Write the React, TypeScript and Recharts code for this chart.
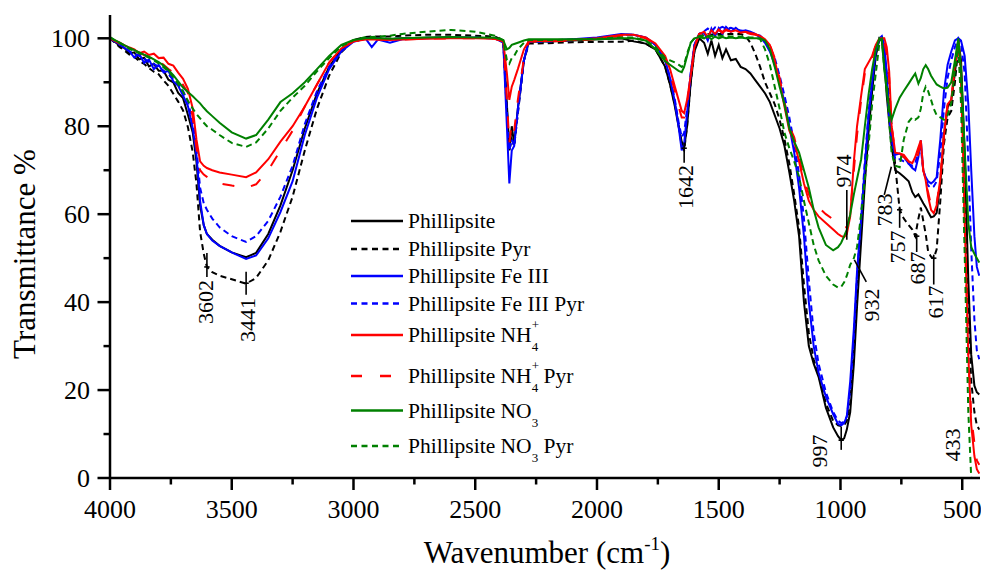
import React from 'react';
import { LineChart, Line, XAxis, YAxis, ReferenceLine } from 'recharts';

// ---- data (transmittance %) ----
const wavenumbers = [
  4000, 3980, 3960, 3940, 3920, 3900, 3880, 3860, 3840, 3820,
  3800, 3780, 3760, 3740, 3720, 3700, 3680, 3660, 3645, 3630,
  3615, 3602, 3580, 3550, 3500, 3441, 3400, 3350, 3300, 3250,
  3200, 3150, 3100, 3050, 3000, 2950, 2925, 2900, 2850, 2800,
  2700, 2600, 2500, 2420, 2385, 2370, 2360, 2350, 2340, 2325,
  2300, 2280, 2200, 2100, 2000, 1900, 1850, 1800, 1760, 1720,
  1700, 1680, 1665, 1652, 1642, 1630, 1615, 1600, 1580, 1560,
  1545, 1530, 1515, 1500, 1485, 1470, 1450, 1430, 1410, 1390,
  1370, 1350, 1330, 1310, 1290, 1270, 1250, 1230, 1210, 1190,
  1170, 1150, 1130, 1110, 1090, 1060, 1030, 1010, 997, 985,
  974, 960, 945, 932, 915, 900, 885, 870, 855, 840,
  830, 820, 810, 800, 790, 775, 757, 740, 720, 705,
  693, 680, 670, 660, 650, 640, 628, 617, 605, 590,
  575, 560, 545, 530, 516, 505, 490, 475, 463, 450,
  440, 430,
];

const phillipsite = [
  100, 99.2, 98.3, 97.8, 96.5, 96.8, 95.2, 95.6, 93.6, 94.2,
  92.6, 92.6, 90.6, 90, 87.6, 86.4, 82.6, 78.5, 72, 62,
  57.5, 55.5, 54.2, 52.8, 51.3, 50.2, 51.2, 55.5, 62, 70,
  79.5, 87.5, 93.5, 97.5, 99.5, 100, 100, 100, 99.8, 100,
  100.1, 100.2, 100.1, 100, 99.5, 85, 74.5, 80, 76, 84,
  95, 99.2, 99.3, 99.5, 99.8, 100, 99.3, 98.8, 97.5, 93.5,
  89.5, 84.5, 80, 76.5, 75, 80, 90, 97, 100, 99,
  96.5, 99.5, 96, 98.5, 95.5, 97.5, 95, 95.3, 93.5, 93,
  92, 90.5, 89, 87.5, 85.5, 82.5, 79.5, 75.5, 69.5, 63,
  55, 40, 30, 26, 23, 16, 11.5, 9.5, 8.6, 9,
  11, 15, 26, 39, 54, 67, 78.5, 88, 96, 100,
  99.5, 95, 87, 81, 75.5, 70, 69.3, 68.5, 67.5, 65,
  63.9, 64.5, 63.5, 62.5, 61.6, 60.5, 59.3, 59.5, 60.3, 67,
  78, 84.3, 86, 92, 99.5, 95, 74, 45, 28, 21,
  19.5, 19,
];

const phillipsitePyr = [
  100, 99, 98, 97.2, 96.3, 95.8, 94.8, 94.2, 93.2, 92.4,
  91.8, 90.4, 89.2, 87.4, 85.6, 83.6, 79.8, 74, 67, 56,
  51, 48, 46.8, 46, 45.2, 44.2, 45.5, 49.5, 56, 64,
  74.5, 84, 91.5, 96.8, 99.6, 100.3, 100.4, 100.4, 100.4, 100.6,
  100.8, 100.8, 100.6, 100.4, 99.5, 84, 74.5, 77, 75.5, 83,
  95, 98.8, 98.9, 99.1, 99.2, 99.2, 99.5, 98.8, 97.5, 93.5,
  89.5, 85, 80.5, 75.5, 74.5, 80, 90, 97, 100.5, 100.8,
  101, 100.8, 101, 101, 101, 101, 101, 101, 101, 100.5,
  99, 96.5, 93.5, 90, 87.5, 85, 81.5, 77, 71.5, 64.5,
  57, 44, 33, 27, 23.5, 17, 13, 12, 11.8, 12,
  13, 17, 29, 43, 57, 69, 80, 89, 96.5, 100,
  99.5, 96.5, 92, 86, 80, 71, 61, 59, 57.5, 56.5,
  55, 59, 61.5, 58.5, 55.5, 51.5, 50.3, 50, 52, 63,
  76, 82, 83.5, 90, 98, 92, 68, 38, 22, 15,
  12, 11,
];

const feIII = [
  100, 99.3, 98.6, 97.8, 97, 95.6, 96.5, 94.4, 95.2, 93,
  94, 92.2, 92.6, 90.2, 89.2, 87, 84.6, 79.5, 73.5, 63,
  57.5, 55.5, 54, 52.8, 51.3, 49.8, 50.6, 54.5, 60.5, 67.5,
  78, 86.5, 93, 97, 99.2, 99.9, 98, 99.7, 99, 99.8,
  100, 100.2, 100.1, 100, 99, 80, 67, 74.5, 75.5, 84,
  95, 99.4, 99.5, 99.8, 100.2, 101, 100.8, 100.2, 98.5, 95,
  91, 85.5, 80, 74.5, 76, 83, 92, 98.5, 101, 101.3,
  99.5, 102.2, 100.5, 102.3, 101, 102.6, 101.5, 102.4, 101.5, 101.8,
  101.5, 101, 100.2, 99, 97, 94, 90, 85.5, 80, 74,
  66, 55, 40, 30, 24, 18.5, 14.5, 12.3, 12, 12.5,
  14, 22, 34, 47, 59, 71, 82, 90, 97, 100,
  100.5, 98.5, 92, 83, 77, 73.5, 73.8, 73, 71.5, 70.5,
  70, 73, 76.8, 70, 68.4, 67.5, 67, 67.5, 68.4, 77,
  88, 94, 97, 99.5, 100, 99.5, 96, 85, 70, 55,
  48, 46,
];

const feIIIPyr = [
  100, 99.2, 98.5, 98, 97, 96.5, 96, 95.4, 94.6, 94.2,
  93.5, 92.6, 91.8, 90.6, 89.6, 88, 85.6, 81, 75, 66,
  62.5, 61, 59, 57, 55, 53.7, 55, 58.5, 64, 71,
  80.5, 88, 93.5, 97.3, 99.4, 100, 99.8, 100, 99.8, 100,
  100.1, 100.2, 100.1, 100, 99.3, 83, 74.5, 77, 75.5, 83,
  95, 99.2, 99.3, 99.6, 100, 100.8, 100.8, 100.2, 98.5, 95,
  91, 86, 81, 77.5, 78.5, 84, 92, 98.5, 101, 101.6,
  102.2, 101.5, 102.5, 102.2, 102.6, 102.2, 102.4, 102, 101.8, 101.6,
  101.2, 101, 100.6, 99.5, 98, 95.5, 91.5, 87, 82, 76,
  69, 59, 45, 33, 26, 19.5, 15, 13, 12.5, 12.8,
  14, 20, 32, 46, 60, 72, 83, 91, 97.5, 100,
  100, 97.5, 90, 82, 77, 72.5, 72.5, 72, 71.5, 71,
  71.5, 74.5, 75, 70, 68, 66.5, 66, 66.3, 67.5, 74,
  84, 91, 95, 98, 100, 99, 92, 72, 52, 36,
  29, 27,
];

const nh4 = [
  100, 99.5, 99, 98.4, 97.9, 97.5, 96.6, 97, 96.2, 96.5,
  95.5, 95.6, 94.2, 93.8, 92.2, 90.8, 88.5, 84, 77, 72,
  71, 70.5, 70, 69.5, 69, 68.4, 69.5, 72.5, 76.5, 80,
  84.5, 89.5, 94.5, 97.7, 99.3, 99.7, 99.7, 99.7, 99.6, 99.7,
  99.9, 100, 100, 99.9, 99.3, 92, 86, 89, 90.5, 93,
  97.5, 99.4, 99.4, 99.6, 100, 100.8, 100.8, 100.2, 98.8, 96,
  93, 89, 86, 83.5, 83, 86, 91.5, 98, 101, 101.5,
  100.3, 101.8, 101, 102, 101.2, 102, 101.5, 101.8, 101.3, 101.5,
  101.2, 101, 100.5, 99.8, 98.5, 95, 90, 84.5, 79, 76.5,
  72, 67, 63, 61, 59.5, 58, 56.5, 55.5, 55, 54.8,
  55.5, 59.5, 72, 80, 87, 93, 94.5, 96, 98.5, 100,
  100, 100, 98, 92.5, 80, 74, 73.8, 73.5, 72, 71.6,
  73, 75.2, 76.8, 70, 67.7, 64, 61, 60.2, 62, 68,
  78, 85, 86, 94, 99.5, 93, 58.6, 28, 12, 5,
  2, 1,
];

const nh4Pyr = [
  100, 99.4, 98.8, 98.2, 97.6, 97.2, 96.8, 96.2, 95.8, 95.3,
  94.8, 94, 93, 92.2, 90.8, 89.4, 87.6, 82, 75, 70,
  69, 68.5, 67.5, 67, 66.5, 66, 66.8, 70, 74.5, 79,
  84.5, 89.5, 94.5, 97.7, 99.3, 99.7, 99.7, 99.7, 99.6, 99.7,
  99.9, 100, 100, 99.9, 99.3, 86, 76, 81, 79, 86,
  95.5, 99.3, 99.3, 99.5, 99.8, 100.6, 100.6, 100, 98.6, 95.5,
  92, 88, 84.5, 82, 82, 85, 91, 98, 101, 101.3,
  101.5, 101.6, 101.5, 101.8, 101.5, 101.8, 101.5, 101.6, 101.5, 101.3,
  101, 100.8, 100.5, 99.5, 98.5, 95.5, 91, 85.5, 80, 77.5,
  73, 68, 64.5, 62.5, 61.5, 60, 58.8, 58, 57.5, 57,
  57, 60, 70, 78, 86, 92, 94, 95.5, 98.5, 100,
  100, 99, 96.5, 91, 80, 74, 73.5, 73, 72, 71,
  71, 74, 76, 70, 67, 65, 62, 61, 62.5, 68,
  78, 85, 86, 93.5, 99, 91, 58, 28, 14, 8,
  4, 3,
];

const no3 = [
  100.3, 99.6, 99, 98.4, 97.8, 97.3, 96.8, 96.3, 95.8, 95.2,
  94.6, 93.8, 92.8, 91.6, 90.2, 88.8, 87.8, 86.8, 86, 85.2,
  84.2, 83.4, 82.3, 80.8, 78.6, 77.2, 78, 81.5, 85.5, 87.5,
  90, 93, 96, 98.5, 99.6, 100, 100, 100, 99.9, 100,
  100.2, 100.3, 100.2, 100.1, 99.6, 97.5, 97.8, 98.5, 98.7, 99,
  99.5, 99.8, 99.8, 99.8, 99.8, 100, 100, 99.5, 97.5, 94.8,
  94, 93.2, 92.6, 92.3, 93.5, 96, 99, 100, 100.3, 100,
  100.5, 99.8, 100.4, 100, 100.3, 100, 100.2, 100, 100.2, 100,
  100, 100, 100, 99.5, 97.5, 93.5, 89, 85, 79.5, 76.5,
  74, 70, 66, 61, 57, 53, 51.8, 52.5, 53.5, 55,
  56.5, 60, 64.5, 68, 72.5, 80, 87, 93, 97.5, 100,
  99.5, 93, 88, 84, 81.5, 84, 86.5, 88, 89.7, 91,
  92, 89.7, 91, 93, 93.9, 93, 91.5, 90.5, 89.5, 89,
  88.6, 88.8, 90, 95, 100, 93, 75, 58, 52.5, 51,
  50, 49,
];

const no3Pyr = [
  100.2, 99.5, 98.9, 98.3, 97.6, 97.1, 96.6, 96.1, 95.6, 95,
  94.3, 93.4, 92.4, 91.2, 89.6, 87.8, 85.8, 84, 82.8, 81.8,
  80.8, 80, 79.2, 78, 76.2, 75.3, 76.3, 79.5, 83.5, 86.5,
  89.2, 92.5, 95.5, 98.2, 99.6, 100.3, 100.3, 100.4, 100.6, 101,
  101.5, 101.9, 101.5, 100.6, 99.6, 95, 94.2, 95.5, 96, 97.5,
  99, 99.6, 99.6, 99.7, 99.9, 100.2, 100.2, 99.5, 98, 95.5,
  95, 94.5, 94, 93.5, 94, 96.5, 99, 100, 100.5, 100.5,
  100.5, 100.6, 100.5, 100.6, 100.5, 100.5, 100.4, 100.4, 100.4, 100.3,
  100.2, 100.2, 99.8, 97.5, 94, 89, 84, 78.5, 75, 72,
  68.5, 63, 58, 53, 49.5, 46, 44, 43.3, 43.5, 44.5,
  46, 48.5, 50, 52.5, 60, 68, 75.5, 85, 92, 99,
  99.8, 93, 90, 81, 74, 71, 70.7, 77, 81, 82,
  81.5, 82, 84, 87.5, 89, 88, 86, 84, 82.5, 82,
  81.5, 82.5, 85.2, 93, 98, 85, 51, 15, 0, 0,
  0, 0,
];

const xTicks = [4000, 3750, 3500, 3250, 3000, 2750, 2500, 2250, 2000, 1750, 1500, 1250, 1000, 750, 500];
const xMajorTicks = [4000, 3500, 3000, 2500, 2000, 1500, 1000, 500];
const yTicks = [0, 10, 20, 30, 40, 50, 60, 70, 80, 90, 100];
const yMajorTicks = [0, 20, 40, 60, 80, 100];

// peak marks: [wavenumber, T] end points of the pointer line, plus crossbar level
const peakMarks = [
  { label: '3602', from: [3602, 51.2], to: [3602, 45.7], bar: 48 },
  { label: '3441', from: [3441, 46.9], to: [3441, 41.7], bar: 44.3 },
  { label: '1642', from: [1642, 76.3], to: [1642, 71.7], bar: 75 },
  { label: '974', from: [974, 65.5], to: [974, 54.2], bar: null },
  { label: '932', from: [943, 49.6], to: [894, 44.6], bar: null },
  { label: '783', from: [791, 70.8], to: [820, 64.4], bar: null },
  { label: '757', from: [757, 61.7], to: [757, 56.9], bar: 61 },
  { label: '687', from: [687, 55.5], to: [687, 51.4], bar: 55 },
  { label: '617', from: [617, 50.8], to: [617, 44], bar: 50 },
  { label: '997', from: [997, 11.7], to: [997, 6.4], bar: 8.6 },
];

const seriesList = [
  { key: 'ph', name: 'Phillipsite', values: phillipsite },
  { key: 'phPyr', name: 'Phillipsite Pyr', values: phillipsitePyr },
  { key: 'fe', name: 'Phillipsite Fe III', values: feIII },
  { key: 'fePyr', name: 'Phillipsite Fe III Pyr', values: feIIIPyr },
  { key: 'nh', name: 'Phillipsite NH4+', values: nh4 },
  { key: 'nhPyr', name: 'Phillipsite NH4+ Pyr', values: nh4Pyr },
  { key: 'no', name: 'Phillipsite NO3', values: no3 },
  { key: 'noPyr', name: 'Phillipsite NO3 Pyr', values: no3Pyr },
];

const legendText = [
  { text: 'Phillipsite' },
  { text: 'Phillipsite Pyr' },
  { text: 'Phillipsite Fe III' },
  { text: 'Phillipsite Fe III Pyr' },
  { text: 'Phillipsite NH', sup: '+', sub: '4' },
  { text: 'Phillipsite NH', sup: '+', sub: '4', tail: ' Pyr' },
  { text: 'Phillipsite NO', sub: '3' },
  { text: 'Phillipsite NO', sub: '3', tail: ' Pyr' },
];

// ---- styles / layout ----
const FONT = "'Liberation Serif', 'Times New Roman', Times, serif";
const styles: Record<string, { color: string; dash?: string }> = {
  ph: { color: '#000000' },
  phPyr: { color: '#000000', dash: '6 4' },
  fe: { color: '#0000ff' },
  fePyr: { color: '#0000ff', dash: '6 4' },
  nh: { color: '#ff0000' },
  nhPyr: { color: '#ff0000', dash: '12 17' },
  no: { color: '#008000' },
  noPyr: { color: '#008000', dash: '6 4' },
};
const legendLegendDash: Record<string, string | undefined> = {
  phPyr: '6 4.5', fePyr: '6 4.5', nhPyr: '11 18', noPyr: '6 4.5',
};
const legendRowY = [221, 249, 276, 303.5, 335, 376, 410.5, 446];
const peakLabelPos: Record<string, [number, number]> = {
  '3602': [205, 302],
  '3441': [247, 320],
  '1642': [685, 187],
  '974': [843, 171],
  '932': [871, 305],
  '783': [884, 210],
  '757': [897, 247],
  '687': [917, 268],
  '617': [935, 302],
  '997': [819, 451],
  '433': [952, 445],
};

const data = wavenumbers.map((wn, i) => {
  const row: Record<string, number> = { wn };
  seriesList.forEach((s) => {
    row[s.key] = s.values[i];
  });
  return row;
});

const XTick = (props: any) => {
  const { x, y, payload } = props;
  const major = xMajorTicks.includes(payload.value);
  return (
    <g>
      <line x1={x} x2={x} y1={y} y2={y + (major ? 12 : 6.5)} stroke="#000" strokeWidth={2.5} />
      {major && (
        <text x={x} y={y + 40} textAnchor="middle" fontSize={26} fontFamily={FONT} fill="#000">
          {payload.value}
        </text>
      )}
    </g>
  );
};

const YTick = (props: any) => {
  const { x, y, payload } = props;
  const major = yMajorTicks.includes(payload.value);
  return (
    <g>
      <line x1={x} x2={x - (major ? 12.5 : 6.5)} y1={y} y2={y} stroke="#000" strokeWidth={2.5} />
      {major && (
        <text x={x - 20} y={y + 9} textAnchor="end" fontSize={26} fontFamily={FONT} fill="#000">
          {payload.value}
        </text>
      )}
    </g>
  );
};

export default function App() {
  return (
    <div style={{ position: 'absolute', left: 0, top: 0, width: 981, height: 572, background: '#fff' }}>
      <LineChart
        width={981}
        height={572}
        data={data}
        margin={{ top: 15, right: 1, bottom: 0, left: 0 }}
      >
        <XAxis
          dataKey="wn"
          type="number"
          domain={[427, 4000]}
          reversed
          allowDataOverflow
          ticks={xTicks}
          interval={0}
          tickSize={0}
          tickMargin={0}
          tickLine={false}
          tick={<XTick />}
          axisLine={{ stroke: '#000', strokeWidth: 2.5 }}
          height={94}
        />
        <YAxis
          type="number"
          domain={[0, 105.3]}
          allowDataOverflow
          ticks={yTicks}
          interval={0}
          tickSize={0}
          tickMargin={0}
          tickLine={false}
          tick={<YTick />}
          axisLine={{ stroke: '#000', strokeWidth: 2.5 }}
          width={110}
        />
        {seriesList.map((s) => (
          <Line
            key={s.key}
            dataKey={s.key}
            type="linear"
            stroke={styles[s.key].color}
            strokeDasharray={styles[s.key].dash}
            strokeWidth={2}
            dot={false}
            activeDot={false}
            isAnimationActive={false}
          />
        ))}
        {peakMarks.map((p) => (
          <ReferenceLine
            key={'l' + p.label}
            segment={[{ x: p.from[0], y: p.from[1] }, { x: p.to[0], y: p.to[1] }]}
            stroke="#000"
            strokeWidth={1.6}
            ifOverflow="visible"
          />
        ))}
        {peakMarks
          .filter((p) => p.bar !== null)
          .map((p) => (
            <ReferenceLine
              key={'b' + p.label}
              segment={[{ x: p.from[0] + 11, y: p.bar as number }, { x: p.from[0] - 11, y: p.bar as number }]}
              stroke="#000"
              strokeWidth={1.6}
              ifOverflow="visible"
            />
          ))}
      </LineChart>

      <svg
        width={981}
        height={572}
        style={{ position: 'absolute', left: 0, top: 0, pointerEvents: 'none' }}
        fontFamily={FONT}
      >
        {/* axis titles */}
        <text x={35} y={254} transform="rotate(-90 35 254)" textAnchor="middle" fontSize={31} fill="#000">
          Transmittance %
        </text>
        <text x={547} y={563} textAnchor="middle" fontSize={31} fill="#000">
          <tspan>Wavenumber (cm</tspan>
          <tspan dy={-13} fontSize={19}>-1</tspan>
          <tspan dy={13}>)</tspan>
        </text>

        {/* peak labels */}
        {Object.keys(peakLabelPos).map((k) => {
          const [cx, cy] = peakLabelPos[k];
          return (
            <text
              key={k}
              x={cx}
              y={cy}
              transform={`rotate(-90 ${cx} ${cy})`}
              textAnchor="middle"
              dominantBaseline="central"
              fontSize={22}
              fill="#000"
            >
              {k}
            </text>
          );
        })}

        {/* legend */}
        {seriesList.map((s, i) => {
          const cy = legendRowY[i];
          const lt = legendText[i];
          return (
            <g key={'lg' + s.key}>
              <line
                x1={351}
                x2={403}
                y1={cy}
                y2={cy}
                stroke={styles[s.key].color}
                strokeWidth={2.5}
                strokeDasharray={legendLegendDash[s.key]}
              />
              <text x={408} y={cy + 7} fontSize={21.5} fill="#000">
                <tspan>{lt.text}</tspan>
                {lt.sup && (
                  <tspan dy={-13} fontSize={13}>
                    {lt.sup}
                  </tspan>
                )}
                {lt.sub && (
                  <tspan dx={lt.sup ? -7.3 : 0} dy={lt.sup ? 22 : 9} fontSize={13}>
                    {lt.sub}
                  </tspan>
                )}
                {lt.tail && <tspan dy={-9}>{lt.tail}</tspan>}
              </text>
            </g>
          );
        })}
      </svg>
    </div>
  );
}
